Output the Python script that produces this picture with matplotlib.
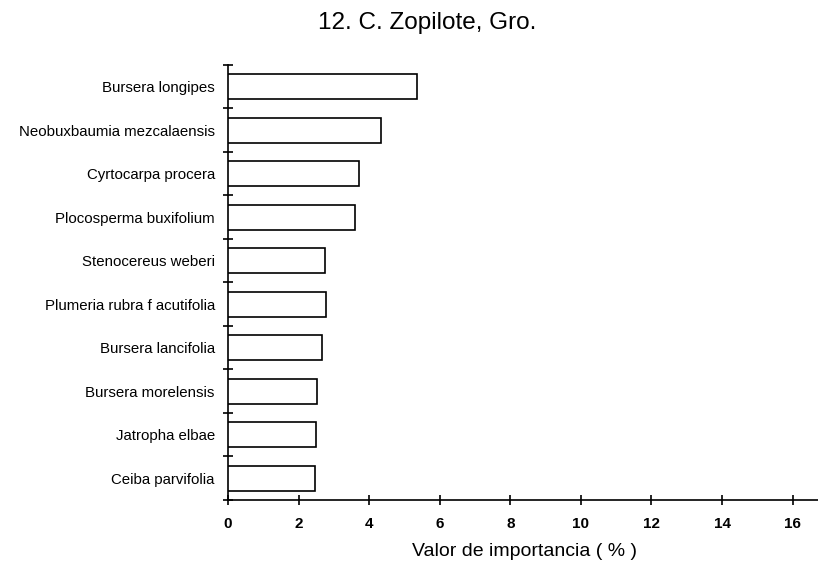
import numpy as np
import matplotlib
matplotlib.use("Agg")
import matplotlib.pyplot as plt

plt.rcParams['font.family'] = ['Liberation Sans', 'DejaVu Sans']

species = [
    "Bursera longipes",
    "Neobuxbaumia mezcalaensis",
    "Cyrtocarpa procera",
    "Plocosperma buxifolium",
    "Stenocereus weberi",
    "Plumeria rubra f acutifolia",
    "Bursera lancifolia",
    "Bursera morelensis",
    "Jatropha elbae",
    "Ceiba parvifolia",
]
importance = [5.36, 4.33, 3.72, 3.60, 2.75, 2.77, 2.65, 2.53, 2.48, 2.46]
x_ticks = [0, 2, 4, 6, 8, 10, 12, 14, 16]

fig = plt.figure(figsize=(8.18, 5.64), dpi=100)
ax = fig.add_axes([228 / 818, 1 - 500 / 564, 1 - 228 / 818, (500 - 65) / 564])

ypos = np.arange(len(species))
ax.barh(ypos, importance, height=0.57, color='white', edgecolor='black',
        linewidth=1.2, zorder=3)

ax.set_ylim(9.5, -0.5)
ax.set_xlim(0, 16.72)

for side in ('top', 'right'):
    ax.spines[side].set_visible(False)
for side in ('left', 'bottom'):
    ax.spines[side].set_linewidth(1.2)

ax.set_yticks(ypos)
ax.set_yticklabels(species, fontsize=10.8)
ax.tick_params(axis='y', which='major', length=0, pad=9.5)
ax.set_yticks(np.arange(-0.5, len(species), 1.0), minor=True)
ax.tick_params(axis='y', which='minor', direction='inout', length=7.2, width=1.2)

ax.set_xticks(x_ticks)
ax.set_xticklabels([str(v) for v in x_ticks], fontsize=11, fontweight='bold')
ax.tick_params(axis='x', which='major', direction='inout', length=7.2, width=1.2, pad=9)

fig.text(412 / 818, 1 - 552 / 564, "Valor de importancia ( % )", fontsize=14,
         ha='left', va='center')
fig.text(427 / 818, 1 - 23 / 564, "12. C. Zopilote, Gro.", fontsize=17.5,
         ha='center', va='center')

fig.savefig("out.png", dpi=100)
